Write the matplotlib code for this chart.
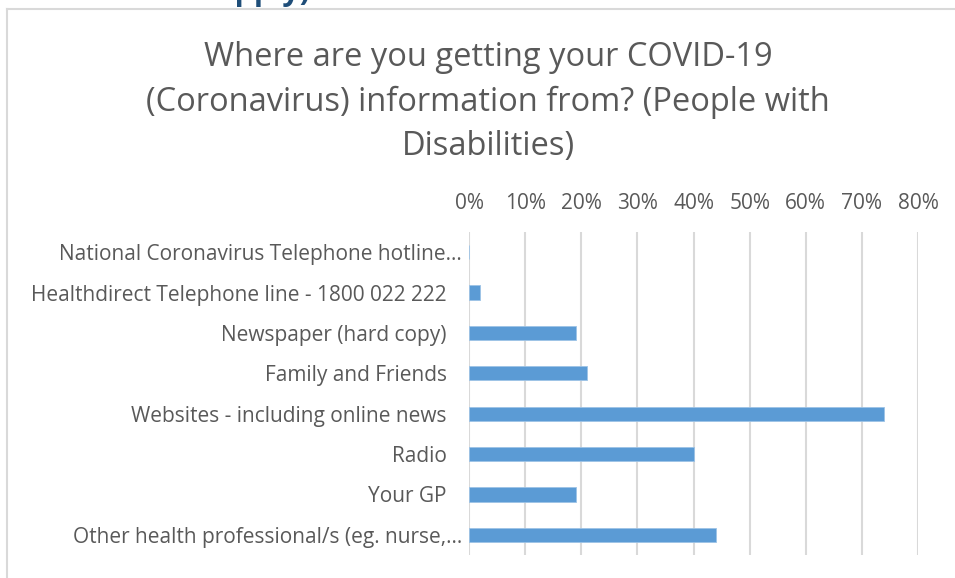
#!/usr/bin/env python

import numpy as np
import matplotlib.pyplot as plt
import matplotlib.transforms as mtrans
from matplotlib.ticker import PercentFormatter

# data
categories = ['National Coronavirus Telephone hotline…',
              'Healthdirect Telephone line - 1800 022 222',
              'Newspaper (hard copy)',
              'Family and Friends',
              'Websites - including online news',
              'Radio',
              'Your GP',
              'Other health professional/s (eg. nurse,…']
shares = [0.0, 0.02, 0.19, 0.21, 0.74, 0.40, 0.19, 0.44]
xticks = [0.0, 0.1, 0.2, 0.3, 0.4, 0.5, 0.6, 0.7, 0.8]

title = 'Where are you getting your COVID-19\n(Coronavirus) information from? (People with\nDisabilities)'

plt.rcParams['font.family'] = ['Open Sans', 'DejaVu Sans']
grey = '#595959'

fig = plt.figure(figsize=(9.55, 5.78), dpi=100)

# outer chart frame (top and left edges visible)
fig.add_artist(plt.Line2D([7/955, 1.0], [1 - 9/578, 1 - 9/578], color='#D9D9D9', lw=1.5))
fig.add_artist(plt.Line2D([7/955, 7/955], [0.0, 1 - 9/578], color='#D9D9D9', lw=1.5))

# heading of the page, cut off at the top
fig.text(0.0, 1 - 0.3/578, 'Select all that apply)', color='#1F4E79', fontsize=22,
         fontweight='bold', ha='left', va='baseline')

ax = fig.add_axes([469/955, 1 - 555/578, (918 - 469)/955, (555 - 232)/578])
y = np.arange(len(categories))
ax.barh(y, shares, height=0.35, color='#5B9BD5', edgecolor='#9DC3E6', linewidth=0.6, zorder=3)

ax.set_xlim(0, 0.8)
ax.set_ylim(len(categories) - 0.5, -0.5)
ax.set_xticks(xticks)
ax.xaxis.set_major_formatter(PercentFormatter(1.0, decimals=0))
ax.set_yticks(y)
ax.set_yticklabels(categories)
ax.xaxis.tick_top()
ax.tick_params(axis='both', length=0, labelsize=15, colors=grey)
ax.tick_params(axis='x', pad=13)
ax.tick_params(axis='y', pad=16)
ax.grid(axis='x', color='#D9D9D9', lw=1.5, zorder=0)
for s in ax.spines.values():
    s.set_visible(False)

# truncated labels sit a little further right, as in the original
shift = mtrans.ScaledTranslation(15/100, 0, fig.dpi_scale_trans)
for lab in ax.get_yticklabels():
    if lab.get_text().endswith('…'):
        lab.set_transform(lab.get_transform() + shift)

fig.text(488/955, 1 - 102/578, title, ha='center', va='center', fontsize=23.5,
         color=grey, linespacing=1.47)

fig.savefig('out.png', dpi=100)
